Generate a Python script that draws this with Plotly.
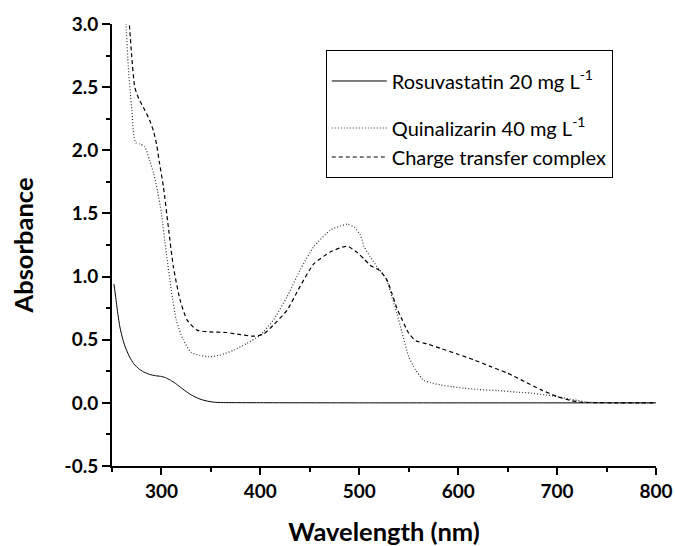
import plotly.graph_objects as go

# Rosuvastatin 20 mg/L
wl_rosu = [252, 254, 256, 258, 261, 264, 268, 272, 277, 282, 288, 294, 299, 304, 309,
           314, 319, 324, 329, 334, 339, 344, 349, 355, 365, 400, 500, 600, 700, 800]
abs_rosu = [0.94, 0.82, 0.70, 0.60, 0.50, 0.43, 0.36, 0.31, 0.27, 0.245, 0.225, 0.215, 0.21, 0.20, 0.18,
            0.155, 0.125, 0.095, 0.068, 0.047, 0.03, 0.018, 0.01, 0.004, 0.002, 0.001, 0.0, 0.0, 0.0, 0.0]

# Quinalizarin 40 mg/L
wl_quin = [263.5, 264.5, 266.5, 268.5, 270, 272, 274, 278, 283, 288,
           292, 296, 300, 305, 310, 315, 322, 330, 339, 349,
           359, 373, 386, 400, 413, 427, 440, 454, 471, 481,
           488, 495, 501, 505, 511, 518, 527, 533, 538, 543.5,
           550, 557, 565, 572, 582, 594, 606, 620, 640, 660,
           674, 688, 700, 711, 721, 731, 745, 760, 780, 800]
abs_quin = [3.1, 2.95, 2.66, 2.45, 2.32, 2.12, 2.06, 2.05, 2.03, 1.92,
            1.82, 1.68, 1.5, 1.18, 0.89, 0.655, 0.5, 0.40, 0.375, 0.365,
            0.378, 0.417, 0.47, 0.536, 0.655, 0.84, 1.05, 1.236, 1.37, 1.40,
            1.415, 1.39, 1.33, 1.236, 1.157, 1.077, 0.985, 0.84, 0.709, 0.55,
            0.366, 0.26, 0.18, 0.16, 0.142, 0.128, 0.116, 0.106, 0.097, 0.085,
            0.077, 0.063, 0.05, 0.033, 0.018, 0.005, 0.002, 0.0, 0.0, 0.0]

# Charge transfer complex
wl_ctc = [266.5, 268, 270, 273, 277, 283, 288, 292, 295, 298,
          302, 307, 312, 319, 326, 336, 349, 366, 380, 393,
          403, 413, 427, 440, 454, 471, 480, 488, 498, 505,
          511, 521, 528, 533, 538, 543.5, 550, 557, 569, 582,
          599, 616, 633, 650, 667, 684, 700, 714, 724, 740,
          760, 780, 800]
abs_ctc = [3.1, 2.95, 2.74, 2.5, 2.41, 2.32, 2.24, 2.15, 2.05, 1.9,
           1.71, 1.39, 1.08, 0.81, 0.655, 0.576, 0.562, 0.557, 0.54, 0.528,
           0.544, 0.615, 0.734, 0.92, 1.10, 1.196, 1.225, 1.24, 1.19, 1.138,
           1.09, 1.046, 0.972, 0.867, 0.749, 0.656, 0.551, 0.493, 0.466, 0.432,
           0.387, 0.34, 0.287, 0.235, 0.169, 0.103, 0.05, 0.018, 0.005, 0.002,
           0.0, 0.0, 0.0]

names = ["Rosuvastatin 20 mg L<sup>-1</sup>",
         "Quinalizarin 40 mg L<sup>-1</sup>",
         "Charge transfer complex"]

x_ticks = [300, 400, 500, 600, 700, 800]
y_ticks = [-0.5, 0.0, 0.5, 1.0, 1.5, 2.0, 2.5, 3.0]

FONT = "Lato"

fig = go.Figure()
fig.add_trace(go.Scatter(x=wl_rosu, y=abs_rosu, mode="lines", name=names[0], legendgroup="a",
                         line=dict(color="black", width=1, shape="spline", smoothing=0.6)))
fig.add_trace(go.Scatter(x=wl_quin, y=abs_quin, mode="lines", name=names[1], legendgroup="b",
                         line=dict(color="#333333", width=1.2, dash="1px,2px", shape="spline", smoothing=0.6)))
fig.add_trace(go.Scatter(x=wl_ctc, y=abs_ctc, mode="lines", name=names[2], legendgroup="b",
                         line=dict(color="black", width=1.2, dash="4px,3px", shape="spline", smoothing=0.6)))

fig.update_layout(
    width=675, height=546,
    margin=dict(l=112, r=19, t=24, b=80, pad=0),
    paper_bgcolor="white", plot_bgcolor="white",
    font=dict(family=FONT, color="black"),
    showlegend=True,
    legend=dict(
        x=0.393, y=0.941, xanchor="left", yanchor="top",
        bordercolor="black", borderwidth=1, bgcolor="white",
        font=dict(family=FONT, size=20, color="black"),
        itemwidth=55, tracegroupgap=18, groupclick="toggleitem",
        title=dict(text=" ", font=dict(size=8)),
    ),
    xaxis=dict(
        range=[250, 800], tickvals=x_ticks, ticktext=[str(v) for v in x_ticks],
        ticks="outside", ticklen=7, tickwidth=2, tickcolor="black",
        showline=True, linewidth=2, linecolor="black",
        showgrid=False, zeroline=False, automargin=False,
        tickfont=dict(family=FONT, size=19, weight="bold", color="black"),
        minor=dict(dtick=50, tick0=250, ticks="outside", ticklen=4, tickwidth=2, tickcolor="black"),
        title=dict(text="Wavelength (nm)", standoff=33,
                   font=dict(family=FONT, size=25.5, weight="bold", color="black")),
    ),
    yaxis=dict(
        range=[-0.5, 3.0], tickvals=y_ticks, ticktext=[f"{v:.1f}" for v in y_ticks],
        ticks="outside", ticklen=8, tickwidth=2, tickcolor="black",
        showline=True, linewidth=2, linecolor="black",
        showgrid=False, zeroline=False, automargin=False,
        tickfont=dict(family=FONT, size=19, weight="bold", color="black"),
        minor=dict(dtick=0.25, tick0=-0.5, ticks="outside", ticklen=4, tickwidth=2, tickcolor="black"),
        title=dict(text="Absorbance", standoff=24,
                   font=dict(family=FONT, size=25.5, weight="bold", color="black")),
    ),
)

fig.write_html("out.html", config={"displayModeBar": False},
               post_script="document.body.style.margin='0px';")
